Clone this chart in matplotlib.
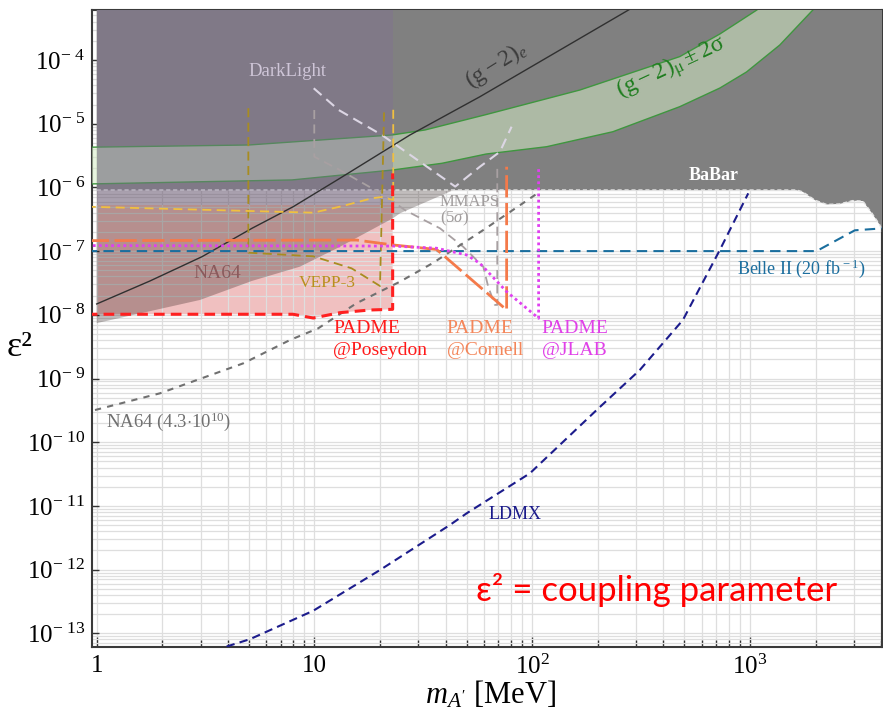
import numpy as np
import matplotlib
matplotlib.use("Agg")
import matplotlib.pyplot as plt
from matplotlib.ticker import FixedLocator, FuncFormatter, LogLocator, NullFormatter

plt.rcParams['font.family'] = ['Liberation Serif', 'DejaVu Serif']
plt.rcParams['mathtext.fontset'] = 'custom'
plt.rcParams['mathtext.rm'] = 'Liberation Serif'
plt.rcParams['mathtext.it'] = 'Liberation Serif:italic'
plt.rcParams['mathtext.bf'] = 'Liberation Serif:bold'

# ---------------- data: dark photon mass [MeV] vs eps^2 ----------------
babar_m = [1.0, 1640, 1750, 1990, 2250, 2580, 2960, 3300, 3620, 3940, 4100]
babar_eps2 = [9.1e-7, 9.1e-7, 8.5e-7, 6.3e-7, 5.4e-7, 5.5e-7, 6.2e-7, 6.1e-7, 4.0e-7, 2.6e-7, 1.9e-7]

na64_m = [1.0, 2.98, 5.16, 8.58, 13.1, 22.9, 24.7, 44.2]
na64_eps2 = [7.4e-9, 1.71e-8, 3.4e-8, 5.7e-8, 1.17e-7, 3.27e-7, 3.92e-7, 9.3e-7]

gm2mu_up_m = [0.9, 4.99, 22.7, 32.2, 61.4, 165.6, 476, 727.5, 1076]
gm2mu_up = [4.27e-6, 4.63e-6, 6.65e-6, 7.97e-6, 1.39e-5, 3.38e-5, 1.13e-4, 2.56e-4, 6.1e-4]
gm2mu_lo_m = [0.9, 7.89, 22.7, 38.5, 61.4, 116.4, 234.6, 476, 727.5, 964, 1371, 1945]
gm2mu_lo = [1.13e-6, 1.31e-6, 1.87e-6, 2.39e-6, 3.34e-6, 4.35e-6, 7.48e-6, 1.85e-5, 3.63e-5, 6.48e-5, 1.72e-4, 6.1e-4]

gm2e_m = [1.0, 1.757, 3.045, 5.164, 7.99, 13.09, 27.45, 57.5, 285.8]
gm2e_eps2 = [1.48e-8, 3.40e-8, 8.17e-8, 2.28e-7, 4.98e-7, 1.39e-6, 6.65e-6, 2.65e-5, 6.49e-4]

kloe_m = [1.0, 22.9]
kloe_lo = [5.3e-7, 5.3e-7]
kloe_hi = [6.1e-4, 6.1e-4]

poseydon_m = [0.9, 7.97, 9.87, 13.09, 17.98, 22.86, 22.86]
poseydon_eps2 = [1.02e-8, 1.02e-8, 8.9e-9, 1.08e-8, 1.19e-8, 1.22e-8, 1.66e-6]
poseydon_top = 5.3e-7

cornell_m = [0.9, 15.6, 22.9, 36.4, 76.3, 76.3]
cornell_eps2 = [1.46e-7, 1.49e-7, 1.25e-7, 1.06e-7, 1.19e-8, 2.11e-6]

jlab_m = [0.9, 22.9, 36.4, 50.0, 57.5, 76.3, 107.0, 107.0]
jlab_eps2 = [1.22e-7, 1.20e-7, 1.11e-7, 8.69e-8, 6.43e-8, 2.31e-8, 8.81e-9, 2.11e-6]

darklight_m = [9.92, 12.92, 20.4, 44.3, 57.5, 71.1, 80.4]
darklight_eps2 = [3.6e-5, 1.64e-5, 6.65e-6, 1.03e-6, 2.11e-6, 3.63e-6, 8.97e-6]

mmaps_m = [9.98, 9.98, 13.09, 21.46, 26.0, 37.7, 48.2, 59.6, 62.8, 67.4, 69.1, 69.1]
mmaps_eps2 = [1.64e-5, 3.03e-6, 1.87e-6, 7.14e-7, 4.41e-7, 2.28e-7, 1.17e-7, 5.69e-8, 2.76e-8, 1.43e-8, 1.43e-8, 2.11e-6]

vepp3_m = [4.97, 4.97, 9.87, 14.8, 20.0, 20.9]
vepp3_eps2 = [1.75e-5, 9.44e-8, 8.28e-8, 5.37e-8, 2.83e-8, 1.75e-5]

gold_m = [0.9, 9.87, 13.09, 18.4, 20.4, 23.0, 23.0]
gold_eps2 = [4.98e-7, 4.01e-7, 4.98e-7, 6.75e-7, 7.07e-7, 6.34e-7, 1.75e-5]

belle_m = [0.9, 2022, 3031, 4100]
belle_eps2 = [1.0e-7, 1.0e-7, 2.12e-7, 2.28e-7]

na64proj_m = [0.982, 1.953, 4.71, 7.72, 10.4, 15.6, 24.7, 34.97, 59.6, 108.5]
na64proj_eps2 = [3.2e-10, 5.86e-10, 1.73e-9, 4.02e-9, 6.13e-9, 1.52e-8, 3.31e-8, 6.5e-8, 2.14e-7, 8.57e-7]

ldmx_m = [3.95, 5.06, 9.87, 20.0, 41.8, 50.0, 97.6, 197.6, 312, 492, 727, 982]
ldmx_eps2 = [6.2e-14, 8.1e-14, 2.26e-13, 9.86e-13, 5.0e-12, 7.65e-12, 3.25e-11, 3.2e-10, 1.36e-9, 8.28e-9, 1.04e-7, 8.07e-7]

x_ticks = [1, 10, 100, 1000]
x_ticklabels = ['1', '10', r'$10^2$', r'$10^3$']
y_exponents = [4, 5, 6, 7, 8, 9, 10, 11, 12, 13]

# ---------------- figure ----------------
fig = plt.figure(figsize=(8.83, 7.15), dpi=100)
ax = fig.add_axes([0.1042, 0.0955, 0.8952, 0.8905])
ax.set_xscale('log')
ax.set_yscale('log')
ax.set_xlim(0.9515, 4060)
ax.set_ylim(6.16e-14, 6.09e-4)
ax.set_axisbelow('line')

top = ax.get_ylim()[1]

# PADME @ Poseydon reach (pink)
pos_x = [1.0] + poseydon_m[1:6] + [poseydon_m[5], 1.0]
pos_y = [poseydon_eps2[0]] + poseydon_eps2[1:6] + [poseydon_top, poseydon_top]
ax.fill(pos_x, pos_y, color='#f0c0c0', lw=0, zorder=1)

ax.grid(which='both', color='#dedede', lw=0.9)

# NA64 exclusion
na_x = na64_m + [na64_m[-1], na64_m[0]]
na_y = na64_eps2 + [babar_eps2[0], babar_eps2[0]]
ax.fill(na_x, na_y, color='#1c0c0a', alpha=0.27, lw=0, zorder=2)

# BaBar exclusion
bb_x = babar_m + [babar_m[-1], babar_m[0]]
bb_y = babar_eps2 + [top, top]
ax.fill(bb_x, bb_y, color='#808080', lw=0, zorder=3)
ax.plot(babar_m, babar_eps2, color='#e6e6e6', lw=1.0, ls=(0, (3, 2)), zorder=3.5)

# (g-2)_mu band
band_x = gm2mu_up_m + gm2mu_lo_m[::-1]
band_y = gm2mu_up + gm2mu_lo[::-1]
ax.fill(band_x, band_y, color='#d5edc6', alpha=0.54, lw=0, zorder=4)
ax.plot(gm2mu_up_m, gm2mu_up, color='#3f963f', lw=1.0, zorder=4.2)
ax.plot(gm2mu_lo_m, gm2mu_lo, color='#3f963f', lw=1.0, zorder=4.2)

# low-mass exclusion (purple)
ax.fill_between(kloe_m, kloe_lo, kloe_hi, color='#806f96', alpha=0.36, lw=0, zorder=5)

# curves
ax.plot(gm2e_m, gm2e_eps2, color='#303030', lw=1.0, zorder=6)
ax.plot(darklight_m, darklight_eps2, color='#dcd6e4', lw=1.5, ls=(0, (5, 3)), zorder=6)
ax.plot(mmaps_m, mmaps_eps2, color='#a8a0a2', lw=1.3, ls=(0, (5, 3)), zorder=6)
ax.plot(vepp3_m, vepp3_eps2, color='#a88c20', lw=1.3, ls=(0, (5, 3)), zorder=6)
ax.plot(gold_m, gold_eps2, color='#f0c040', lw=1.3, ls=(0, (5, 3)), zorder=6)
ax.plot(na64proj_m, na64proj_eps2, color='#707070', lw=1.5, ls=(0, (3, 3)), zorder=6)
ax.plot(ldmx_m, ldmx_eps2, color='#1c1c8c', lw=1.5, ls=(0, (4, 2.5)), zorder=6)
ax.plot(belle_m, belle_eps2, color='#1a6e9e', lw=1.5, ls=(0, (5, 3)), zorder=6)
ax.plot(poseydon_m, poseydon_eps2, color='#ff2020', lw=2.2, ls=(0, (3.5, 2)), zorder=7)
ax.plot(cornell_m, cornell_eps2, color='#f47a4a', lw=2.0, ls=(0, (8, 2)), zorder=7)
ax.plot(jlab_m, jlab_eps2, color='#e040f0', lw=2.0, ls=(0, (1, 1.2)), zorder=7)

# labels on the plot
ax.text(7.49, 6.48e-5, 'DarkLight', color='#cfc6d8', fontsize=13.5, ha='center', va='center', zorder=10)
ax.text(68.6, 8.35e-5, r'$\mathrm{(g-2)}_{e}$', color='#3c3c3c', fontsize=17, rotation=32,
        ha='center', va='center', zorder=10)
ax.text(436, 7.41e-5, r'$\mathrm{(g-2)_{\mu}\pm 2\sigma}$', color='#1e7d1e', fontsize=17.5, rotation=25,
        ha='center', va='center', zorder=10)
ax.text(683, 1.52e-6, 'BaBar', color='white', fontsize=13, fontweight='bold', ha='center', va='center', zorder=10)
ax.text(37.7, 5.97e-7, 'MMAPS', color='#a09c9c', fontsize=12, ha='left', va='center', zorder=10)
ax.text(37.7, 3.27e-7, r'(5$\sigma$)', color='#a09c9c', fontsize=12, ha='left', va='center', zorder=10)
ax.text(3.59, 4.48e-8, 'NA64', color='#8a5a5c', fontsize=14, ha='center', va='center', zorder=10)
ax.text(11.47, 3.12e-8, 'VEPP-3', color='#b8901e', fontsize=12.5, ha='center', va='center', zorder=10)
ax.text(12.16, 6.13e-9, 'PADME', color='#ff1a1a', fontsize=14, ha='left', va='center', zorder=10)
ax.text(12.16, 2.71e-9, '@Poseydon', color='#ff1a1a', fontsize=14, ha='left', va='center', zorder=10)
ax.text(40.5, 6.13e-9, 'PADME', color='#f4865a', fontsize=14, ha='left', va='center', zorder=10)
ax.text(40.5, 2.71e-9, '@Cornell', color='#f4865a', fontsize=14, ha='left', va='center', zorder=10)
ax.text(110.5, 6.13e-9, 'PADME', color='#e040e8', fontsize=14, ha='left', va='center', zorder=10)
ax.text(110.5, 2.71e-9, '@JLAB', color='#e040e8', fontsize=14, ha='left', va='center', zorder=10)
ax.text(868, 5.24e-8, r'Belle II (20 fb$^{\,-1}$)', color='#1c6e9e', fontsize=13, ha='left', va='center', zorder=10)
ax.text(1.103, 2.1e-10, r'NA64 (4.3$\cdot$10$^{10}$)', color='#707070', fontsize=13.5, ha='left', va='center', zorder=10)
ax.text(62.8, 7.2e-12, 'LDMX', color='#1a1a8a', fontsize=13, ha='left', va='center', zorder=10)
ax.text(372.5, 4.79e-13, 'ε² = coupling parameter', color='#ff0000', fontsize=25,
        family=['Lato', 'DejaVu Sans'], ha='center', va='center', zorder=10)

# axes styling
ax.xaxis.set_major_locator(FixedLocator(x_ticks))
ax.xaxis.set_major_formatter(FuncFormatter(lambda v, p: x_ticklabels[x_ticks.index(int(round(v)))] if int(round(v)) in x_ticks else ''))
ax.xaxis.set_minor_locator(LogLocator(base=10, subs=range(2, 10), numticks=20))
ax.xaxis.set_minor_formatter(NullFormatter())
ax.yaxis.set_major_locator(FixedLocator([10.0 ** -e for e in y_exponents]))
ax.yaxis.set_major_formatter(FuncFormatter(lambda v, p: r'$10^{-\ %d}$' % int(round(-np.log10(v)))))
ax.yaxis.set_minor_locator(LogLocator(base=10, subs=range(2, 10), numticks=30))
ax.yaxis.set_minor_formatter(NullFormatter())

ax.tick_params(which='major', direction='in', length=7, width=1, color='#333333', labelsize=18)
ax.tick_params(axis='x', which='major', pad=6)
ax.tick_params(axis='y', which='major', pad=5, length=5)
ax.tick_params(axis='x', which='minor', direction='in', length=5, width=1, color='#333333')
ax.tick_params(axis='y', which='minor', length=0)
for s in ax.spines.values():
    s.set_color('#3a3a3a')
    s.set_linewidth(1.5)

fig.text(0.0226, 1 - 348 / 715, 'ε²', fontsize=26, ha='center', va='center')
fig.text(0.556, 0.029, r"$m_{A'}$ [MeV]", fontsize=22, ha='center', va='center')

fig.savefig('out.png', dpi=100)
